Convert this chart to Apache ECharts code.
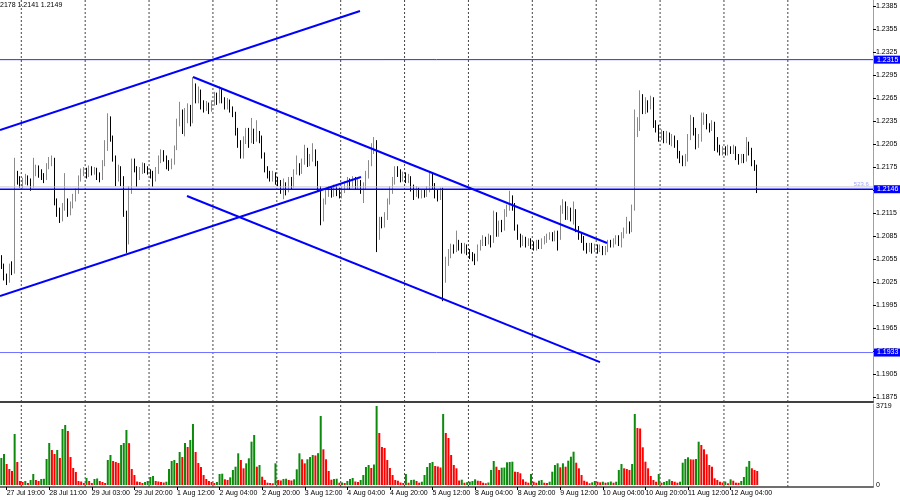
<!DOCTYPE html>
<html><head><meta charset="utf-8">
<script src="https://cdn.jsdelivr.net/npm/echarts@6/dist/echarts.min.js"></script>
<style>html,body{margin:0;padding:0;background:#fff}#c{width:900px;height:500px}</style>
</head><body><div id="c"></div>
<script>
// ---- data ----
const header = '2178 1.2141 1.2149';
// [open, high, low, close] per H1 bar
const ohlc = [
[1.2055,1.2060,1.2042,1.2046],[1.2046,1.2049,1.2027,1.2031],[1.2031,1.2036,1.2021,1.2027],[1.2027,1.2049,1.2024,1.2045],[1.2045,1.2052,1.2034,1.2040],
[1.2040,1.2187,1.2036,1.2164],[1.2164,1.2170,1.2152,1.2158],[1.2158,1.2163,1.2148,1.2152],[1.2152,1.2161,1.2147,1.2156],[1.2156,1.2166,1.2152,1.2160],
[1.2160,1.2164,1.2151,1.2155],[1.2155,1.2160,1.2144,1.2150],[1.2150,1.2187,1.2148,1.2168],[1.2168,1.2178,1.2163,1.2172],[1.2172,1.2177,1.2161,1.2166],
[1.2166,1.2172,1.2158,1.2163],[1.2163,1.2167,1.2154,1.2160],[1.2160,1.2180,1.2158,1.2175],[1.2175,1.2188,1.2172,1.2180],[1.2180,1.2190,1.2176,1.2184],
[1.2184,1.2187,1.2125,1.2128],[1.2128,1.2134,1.2110,1.2116],[1.2116,1.2122,1.2102,1.2108],[1.2108,1.2128,1.2104,1.2122],[1.2122,1.2167,1.2118,1.2130],
[1.2130,1.2134,1.2110,1.2119],[1.2119,1.2130,1.2112,1.2124],[1.2124,1.2140,1.2121,1.2135],[1.2135,1.2147,1.2130,1.2142],[1.2142,1.2164,1.2140,1.2160],
[1.2160,1.2173,1.2156,1.2168],[1.2168,1.2175,1.2163,1.2170],[1.2170,1.2174,1.2160,1.2165],[1.2165,1.2177,1.2162,1.2172],[1.2172,1.2176,1.2164,1.2169],
[1.2169,1.2175,1.2165,1.2171],[1.2171,1.2174,1.2158,1.2164],[1.2164,1.2168,1.2155,1.2161],[1.2161,1.2184,1.2158,1.2180],[1.2180,1.2210,1.2176,1.2200],
[1.2200,1.2245,1.2196,1.2238],[1.2238,1.2241,1.2208,1.2212],[1.2212,1.2216,1.2182,1.2186],[1.2186,1.2190,1.2150,1.2160],[1.2160,1.2178,1.2156,1.2172],
[1.2172,1.2176,1.2150,1.2160],[1.2160,1.2163,1.2110,1.2115],[1.2115,1.2118,1.2063,1.2080],[1.2080,1.2150,1.2074,1.2145],[1.2145,1.2186,1.2140,1.2180],
[1.2180,1.2186,1.2168,1.2172],[1.2172,1.2176,1.2149,1.2162],[1.2162,1.2175,1.2158,1.2170],[1.2170,1.2181,1.2166,1.2176],[1.2176,1.2180,1.2167,1.2172],
[1.2172,1.2176,1.2165,1.2169],[1.2169,1.2172,1.2160,1.2166],[1.2166,1.2170,1.2149,1.2160],[1.2160,1.2175,1.2156,1.2170],[1.2170,1.2190,1.2166,1.2185],
[1.2185,1.2198,1.2180,1.2193],[1.2193,1.2197,1.2182,1.2186],[1.2186,1.2190,1.2172,1.2180],[1.2180,1.2184,1.2170,1.2176],[1.2176,1.2186,1.2172,1.2182],
[1.2182,1.2203,1.2178,1.2200],[1.2200,1.2238,1.2197,1.2233],[1.2233,1.2260,1.2228,1.2240],[1.2240,1.2250,1.2218,1.2222],[1.2222,1.2252,1.2215,1.2240],
[1.2240,1.2258,1.2232,1.2250],[1.2250,1.2256,1.2228,1.2236],[1.2236,1.2292,1.2232,1.2280],[1.2280,1.2284,1.2258,1.2265],[1.2265,1.2280,1.2258,1.2272],
[1.2272,1.2276,1.2250,1.2258],[1.2258,1.2262,1.2246,1.2252],[1.2252,1.2261,1.2248,1.2255],[1.2255,1.2259,1.2244,1.2250],[1.2250,1.2262,1.2247,1.2258],
[1.2258,1.2273,1.2255,1.2268],[1.2268,1.2272,1.2256,1.2262],[1.2262,1.2280,1.2258,1.2275],[1.2275,1.2278,1.2258,1.2262],[1.2262,1.2266,1.2250,1.2255],
[1.2255,1.2265,1.2250,1.2260],[1.2260,1.2263,1.2246,1.2250],[1.2250,1.2254,1.2240,1.2244],[1.2244,1.2247,1.2216,1.2220],[1.2220,1.2226,1.2200,1.2205],
[1.2205,1.2210,1.2186,1.2190],[1.2190,1.2215,1.2186,1.2210],[1.2210,1.2226,1.2205,1.2222],[1.2222,1.2226,1.2200,1.2210],[1.2210,1.2239,1.2206,1.2220],
[1.2220,1.2225,1.2205,1.2212],[1.2212,1.2236,1.2208,1.2218],[1.2218,1.2222,1.2206,1.2214],[1.2214,1.2216,1.2186,1.2190],[1.2190,1.2194,1.2168,1.2172],
[1.2172,1.2176,1.2160,1.2166],[1.2166,1.2170,1.2156,1.2160],[1.2160,1.2170,1.2156,1.2164],[1.2164,1.2168,1.2152,1.2158],[1.2158,1.2162,1.2150,1.2155],
[1.2155,1.2158,1.2140,1.2146],[1.2146,1.2160,1.2133,1.2150],[1.2150,1.2155,1.2138,1.2146],[1.2146,1.2162,1.2142,1.2158],[1.2158,1.2162,1.2146,1.2152],
[1.2152,1.2172,1.2148,1.2168],[1.2168,1.2190,1.2165,1.2175],[1.2175,1.2180,1.2164,1.2170],[1.2170,1.2186,1.2166,1.2182],[1.2182,1.2204,1.2178,1.2196],
[1.2196,1.2200,1.2175,1.2180],[1.2180,1.2192,1.2176,1.2186],[1.2186,1.2206,1.2182,1.2194],[1.2194,1.2198,1.2176,1.2180],[1.2180,1.2183,1.2143,1.2146],
[1.2146,1.2150,1.2099,1.2108],[1.2108,1.2134,1.2104,1.2130],[1.2130,1.2146,1.2126,1.2140],[1.2140,1.2150,1.2136,1.2144],[1.2144,1.2150,1.2135,1.2140],
[1.2140,1.2152,1.2136,1.2146],[1.2146,1.2150,1.2137,1.2142],[1.2142,1.2148,1.2134,1.2138],[1.2138,1.2150,1.2134,1.2145],[1.2145,1.2156,1.2141,1.2150],
[1.2150,1.2162,1.2146,1.2156],[1.2156,1.2160,1.2146,1.2152],[1.2152,1.2163,1.2148,1.2158],[1.2158,1.2162,1.2145,1.2150],[1.2150,1.2160,1.2146,1.2154],
[1.2154,1.2158,1.2140,1.2146],[1.2146,1.2155,1.2128,1.2150],[1.2150,1.2170,1.2146,1.2165],[1.2165,1.2184,1.2160,1.2180],[1.2180,1.2206,1.2176,1.2200],
[1.2200,1.2214,1.2192,1.2206],[1.2206,1.2210,1.2064,1.2085],[1.2085,1.2110,1.2080,1.2104],[1.2104,1.2110,1.2095,1.2100],[1.2100,1.2116,1.2096,1.2110],
[1.2110,1.2134,1.2106,1.2130],[1.2130,1.2150,1.2126,1.2145],[1.2145,1.2162,1.2140,1.2156],[1.2156,1.2176,1.2152,1.2172],[1.2172,1.2176,1.2162,1.2168],
[1.2168,1.2172,1.2155,1.2160],[1.2160,1.2169,1.2156,1.2164],[1.2164,1.2168,1.2154,1.2158],[1.2158,1.2166,1.2154,1.2160],[1.2160,1.2163,1.2143,1.2148],
[1.2148,1.2152,1.2132,1.2140],[1.2140,1.2150,1.2136,1.2144],[1.2144,1.2148,1.2134,1.2138],[1.2138,1.2146,1.2134,1.2142],[1.2142,1.2146,1.2135,1.2140],
[1.2140,1.2150,1.2136,1.2145],[1.2145,1.2168,1.2142,1.2162],[1.2162,1.2166,1.2146,1.2150],[1.2150,1.2154,1.2134,1.2140],[1.2140,1.2146,1.2130,1.2136],
[1.2136,1.2148,1.2132,1.2144],[1.2144,1.2148,1.2000,1.2031],[1.2031,1.2058,1.2024,1.2052],[1.2052,1.2068,1.2046,1.2060],[1.2060,1.2075,1.2056,1.2070],
[1.2070,1.2074,1.2062,1.2068],[1.2068,1.2092,1.2064,1.2075],[1.2075,1.2080,1.2066,1.2072],[1.2072,1.2076,1.2062,1.2066],[1.2066,1.2076,1.2062,1.2070],
[1.2070,1.2074,1.2060,1.2065],[1.2065,1.2068,1.2055,1.2060],[1.2060,1.2064,1.2052,1.2058],[1.2058,1.2062,1.2047,1.2056],[1.2056,1.2074,1.2052,1.2070],
[1.2070,1.2080,1.2066,1.2076],[1.2076,1.2086,1.2072,1.2080],[1.2080,1.2084,1.2072,1.2077],[1.2077,1.2088,1.2074,1.2082],[1.2082,1.2086,1.2070,1.2080],
[1.2080,1.2118,1.2076,1.2113],[1.2113,1.2116,1.2084,1.2088],[1.2088,1.2105,1.2084,1.2100],[1.2100,1.2106,1.2090,1.2096],[1.2096,1.2120,1.2092,1.2115],
[1.2115,1.2126,1.2110,1.2122],[1.2122,1.2144,1.2118,1.2130],[1.2130,1.2138,1.2118,1.2124],[1.2124,1.2128,1.2092,1.2096],[1.2096,1.2100,1.2080,1.2084],
[1.2084,1.2088,1.2070,1.2076],[1.2076,1.2086,1.2072,1.2080],[1.2080,1.2084,1.2070,1.2075],[1.2075,1.2082,1.2072,1.2078],[1.2078,1.2082,1.2068,1.2074],
[1.2074,1.2078,1.2066,1.2070],[1.2070,1.2080,1.2066,1.2076],[1.2076,1.2080,1.2068,1.2072],[1.2072,1.2082,1.2068,1.2078],[1.2078,1.2085,1.2074,1.2080],
[1.2080,1.2088,1.2076,1.2084],[1.2084,1.2090,1.2080,1.2086],[1.2086,1.2090,1.2078,1.2082],[1.2082,1.2092,1.2078,1.2088],[1.2088,1.2092,1.2066,1.2084],
[1.2084,1.2125,1.2080,1.2120],[1.2120,1.2133,1.2114,1.2126],[1.2126,1.2130,1.2106,1.2112],[1.2112,1.2124,1.2106,1.2118],[1.2118,1.2122,1.2104,1.2108],
[1.2108,1.2130,1.2100,1.2116],[1.2116,1.2120,1.2090,1.2094],[1.2094,1.2098,1.2080,1.2086],[1.2086,1.2090,1.2076,1.2082],[1.2082,1.2085,1.2066,1.2072],
[1.2072,1.2076,1.2062,1.2068],[1.2068,1.2076,1.2064,1.2072],[1.2072,1.2076,1.2062,1.2068],[1.2068,1.2075,1.2064,1.2070],[1.2070,1.2074,1.2062,1.2066],
[1.2066,1.2074,1.2064,1.2070],[1.2070,1.2072,1.2060,1.2064],[1.2064,1.2072,1.2060,1.2068],[1.2068,1.2080,1.2064,1.2076],[1.2076,1.2080,1.2070,1.2074],
[1.2074,1.2082,1.2070,1.2078],[1.2078,1.2086,1.2074,1.2082],[1.2082,1.2086,1.2072,1.2078],[1.2078,1.2090,1.2070,1.2086],[1.2086,1.2096,1.2082,1.2092],
[1.2092,1.2110,1.2088,1.2098],[1.2098,1.2104,1.2088,1.2094],[1.2094,1.2126,1.2090,1.2122],[1.2122,1.2250,1.2118,1.2220],[1.2220,1.2240,1.2214,1.2226],
[1.2226,1.2275,1.2222,1.2262],[1.2262,1.2270,1.2244,1.2250],[1.2250,1.2266,1.2244,1.2258],[1.2258,1.2262,1.2246,1.2254],[1.2254,1.2268,1.2250,1.2262],
[1.2262,1.2266,1.2226,1.2232],[1.2232,1.2236,1.2220,1.2226],[1.2226,1.2230,1.2208,1.2214],[1.2214,1.2224,1.2210,1.2218],[1.2218,1.2222,1.2206,1.2212],
[1.2212,1.2222,1.2206,1.2216],[1.2216,1.2220,1.2204,1.2208],[1.2208,1.2218,1.2202,1.2212],[1.2212,1.2216,1.2200,1.2206],[1.2206,1.2210,1.2186,1.2190],
[1.2190,1.2196,1.2180,1.2186],[1.2186,1.2190,1.2176,1.2180],[1.2180,1.2192,1.2176,1.2186],[1.2186,1.2218,1.2182,1.2214],[1.2214,1.2243,1.2210,1.2236],
[1.2236,1.2240,1.2216,1.2222],[1.2222,1.2226,1.2198,1.2204],[1.2204,1.2218,1.2200,1.2212],[1.2212,1.2246,1.2208,1.2236],[1.2236,1.2246,1.2230,1.2240],
[1.2240,1.2244,1.2224,1.2228],[1.2228,1.2232,1.2220,1.2226],[1.2226,1.2236,1.2222,1.2230],[1.2230,1.2234,1.2196,1.2210],[1.2210,1.2214,1.2194,1.2200],
[1.2200,1.2204,1.2190,1.2194],[1.2194,1.2202,1.2190,1.2198],[1.2198,1.2202,1.2190,1.2194],[1.2194,1.2204,1.2190,1.2199],[1.2199,1.2202,1.2192,1.2196],
[1.2196,1.2204,1.2192,1.2200],[1.2200,1.2202,1.2184,1.2188],[1.2188,1.2192,1.2178,1.2184],[1.2184,1.2192,1.2180,1.2188],[1.2188,1.2192,1.2180,1.2185],
[1.2185,1.2214,1.2182,1.2198],[1.2198,1.2208,1.2190,1.2194],[1.2194,1.2200,1.2176,1.2180],[1.2180,1.2184,1.2170,1.2176],[1.2176,1.2178,1.2141,1.2149]
];
const volumes = [
1271,1459,988,753,659,2400,1083,188,141,190,
94,235,518,235,188,282,292,1224,1977,1647,
1459,1650,1271,2636,2824,2542,1318,800,612,188,
165,94,330,188,94,282,306,188,141,94,
1177,1412,1130,1083,1036,1883,1977,2589,1970,753,
471,165,141,94,141,188,377,424,188,165,
141,118,155,753,1130,1177,1036,1553,1318,1977,
1789,2118,2871,1553,1036,847,471,282,188,141,
94,141,518,532,268,235,362,706,862,1492,
1177,786,1020,1257,2040,2354,862,941,391,235,
108,94,80,1020,235,212,282,296,235,212,
268,739,1492,1210,1020,1210,1318,1412,1390,1500,
3250,1680,1210,659,250,282,296,108,118,94,
188,282,330,165,141,235,471,847,941,800,
965,3719,2448,1789,1742,1177,800,471,235,202,
118,94,518,108,235,250,188,108,155,471,
847,1036,1083,894,871,824,3342,2448,2212,1412,
941,786,212,250,108,132,155,188,268,202,
188,108,80,118,706,1130,861,706,814,824,
1068,1083,1097,626,612,551,268,155,108,518,
155,108,202,235,108,94,155,626,941,1021,
833,1021,861,1144,1332,1567,1050,786,471,202,
155,80,127,188,155,127,155,108,127,165,
108,155,706,988,786,753,706,988,3342,2683,
2660,1775,1097,786,424,235,155,518,108,141,
188,268,188,155,108,155,1050,1224,1304,1210,
1200,1224,2038,1883,1680,1445,941,861,315,235,
155,118,165,80,268,202,108,104,188,377,
861,1130,786,706,659
];
const volumeMaxLabel = 3719;
const timeLabels = ['27 Jul 19:00','28 Jul 11:00','29 Jul 03:00','29 Jul 20:00','1 Aug 12:00','2 Aug 04:00','2 Aug 20:00','3 Aug 12:00','4 Aug 04:00','4 Aug 20:00','5 Aug 12:00','8 Aug 04:00','8 Aug 20:00','9 Aug 12:00','10 Aug 04:00','10 Aug 20:00','11 Aug 12:00','12 Aug 04:00'];
const priceTicks = [1.2385,1.2355,1.2325,1.2295,1.2265,1.2235,1.2205,1.2175,1.2145,1.2115,1.2085,1.2055,1.2025,1.1995,1.1965,1.1935,1.1905,1.1875];
const levelPrices = [1.2315, 1.2146, 1.1933];
const bidPrice = 1.2149;
const fiboText = '523.6';
// trend lines: [barIndex, price] end points
const trendLines = [
  [[-0.5, 1.22232], [134.76, 1.23785]],
  [[-0.5, 1.20067], [135.13, 1.21619]],
  [[72.01, 1.22924], [227.56, 1.20759]],
  [[69.76, 1.21372], [224.93, 1.19206]]
];

// ---- layout ----
const SLOTS = 328;          // bar slots across the plot (incl. empty future)
const LABEL_START = 2, LABEL_EVERY = 16;
const DAY_START = 8, DAY_EVERY = 24, DAY_COUNT = 13;   // day separator bars
const PRICE_MIN = 1.18685, PRICE_MAX = 1.23928;
const VOL_MIN = -94, VOL_MAX = 3813;
const FONT = 'Liberation Sans';
const levelColors = ['#2a2aff', '#0000ff', '#7070ff'];
const levelWidths = [1, 1.5, 1];

const cats = Array.from({length: SLOTS}, (_, i) => String(i));
const candleData = ohlc.map(r => [r[0], r[3], r[2], r[1]]);
const volData = volumes.map((v, i) => ({
  value: v,
  itemStyle: {color: (i === 0 || v > volumes[i - 1]) ? '#0b8a0b' : '#ff0000'}
}));
const isLabel = i => i >= LABEL_START && (i - LABEL_START) % LABEL_EVERY === 0 && (i - LABEL_START) / LABEL_EVERY < timeLabels.length;
const xEnds = [-0.5, SLOTS - 0.5];
const dayBars = Array.from({length: DAY_COUNT}, (_, k) => DAY_START + k * DAY_EVERY);

const gridLineStyle = {color: '#444', type: [2, 2], width: 1};
const daySeries = [];
dayBars.forEach(b => {
  daySeries.push({type: 'line', xAxisIndex: 1, yAxisIndex: 0, symbol: 'none', silent: true, z: 1,
    data: [[b - 0.5, PRICE_MIN], [b - 0.5, PRICE_MAX]], lineStyle: gridLineStyle});
  daySeries.push({type: 'line', xAxisIndex: 3, yAxisIndex: 1, symbol: 'none', silent: true, z: 1,
    data: [[b - 0.5, VOL_MIN], [b - 0.5, VOL_MAX]], lineStyle: gridLineStyle});
});

const levelSeries = levelPrices.map((p, k) => ({
  type: 'line', xAxisIndex: 1, yAxisIndex: 0, symbol: 'none', silent: true, z: 4,
  data: xEnds.map(x => [x, p]),
  lineStyle: {color: levelColors[k], width: levelWidths[k]},
  endLabel: {show: true, formatter: p.toFixed(4), distance: 1,
    backgroundColor: '#0000ff', color: '#ffffff', padding: [1, 3, 0, 3],
    fontSize: 7, fontFamily: FONT}
}));

const chart = echarts.init(document.getElementById('c'), null, {renderer: 'canvas'});
chart.setOption({
  animation: false,
  backgroundColor: '#ffffff',
  title: {text: header, left: 0, top: 2, padding: 0,
    textStyle: {fontSize: 7, fontWeight: 'normal', color: '#000', fontFamily: FONT}},
  grid: [
    {left: 0, top: 0, width: 873, height: 402, outerBoundsMode: 'none', containLabel: false},
    {left: 0, top: 404, width: 873, height: 83, outerBoundsMode: 'none', containLabel: false}
  ],
  xAxis: [
    {type: 'category', gridIndex: 0, data: cats, boundaryGap: true,
      axisLine: {show: true, onZero: false, lineStyle: {color: '#404040', width: 2}},
      axisTick: {show: false}, axisLabel: {show: false}, splitLine: {show: false}},
    {type: 'value', gridIndex: 0, min: xEnds[0], max: xEnds[1], show: false,
      axisLine: {onZero: false}, splitLine: {show: false}},
    {type: 'category', gridIndex: 1, data: cats, boundaryGap: true, position: 'bottom',
      axisLine: {show: true, onZero: false, lineStyle: {color: '#404040', width: 1.5}},
      axisTick: {show: true, interval: isLabel, alignWithLabel: true, length: 3, lineStyle: {color: '#000'}},
      axisLabel: {show: true, interval: isLabel, align: 'left', margin: 3,
        formatter: (v, idx) => timeLabels[(idx - LABEL_START) / LABEL_EVERY] || '',
        fontSize: 7, color: '#000', fontFamily: FONT},
      splitLine: {show: false}},
    {type: 'value', gridIndex: 1, min: xEnds[0], max: xEnds[1], show: false,
      axisLine: {onZero: false}, splitLine: {show: false}}
  ],
  yAxis: [
    {type: 'value', gridIndex: 0, position: 'right', min: PRICE_MIN, max: PRICE_MAX, scale: true,
      axisLine: {show: true, onZero: false, lineStyle: {color: '#a0a0a0', width: 1}},
      axisTick: {show: true, customValues: priceTicks, length: 3, inside: false, lineStyle: {color: '#000'}},
      axisLabel: {show: true, customValues: priceTicks, formatter: v => v.toFixed(4), margin: 3,
        fontSize: 7, color: '#000', fontFamily: FONT},
      splitLine: {show: false}},
    {type: 'value', gridIndex: 1, position: 'right', min: VOL_MIN, max: VOL_MAX,
      axisLine: {show: true, onZero: false, lineStyle: {color: '#a0a0a0', width: 1}},
      axisTick: {show: false},
      axisLabel: {show: true, customValues: [0, volumeMaxLabel], formatter: v => String(Math.round(v)), margin: 3,
        fontSize: 7, color: '#000', fontFamily: FONT},
      splitLine: {show: false}}
  ],
  series: [
    ...daySeries,
    {type: 'candlestick', xAxisIndex: 0, yAxisIndex: 0, data: candleData, barWidth: 1.2, silent: true, z: 2,
      itemStyle: {color: '#a4a4a4', color0: '#000000', borderColor: '#8a8a8a', borderColor0: '#000000', borderWidth: 1}},
    {type: 'line', xAxisIndex: 1, yAxisIndex: 0, symbol: 'none', silent: true, z: 3,
      data: xEnds.map(x => [x, bidPrice]), lineStyle: {color: '#c8c8c8', width: 1}},
    ...levelSeries,
    {type: 'scatter', xAxisIndex: 1, yAxisIndex: 0, silent: true, z: 6, symbolSize: 1, clip: false,
      itemStyle: {color: 'rgba(0,0,0,0)'},
      data: [[xEnds[1] - 1, levelPrices[1]]],
      label: {show: true, position: 'left', distance: 1, offset: [0, -5], formatter: fiboText,
        color: '#8a8aff', fontSize: 6, fontFamily: FONT}},
    ...trendLines.map(seg => ({
      type: 'line', xAxisIndex: 1, yAxisIndex: 0, data: seg, symbol: 'none', silent: true,
      lineStyle: {color: '#0000ff', width: 2}, z: 5
    })),
    {type: 'bar', xAxisIndex: 2, yAxisIndex: 1, data: volData, barWidth: 2, silent: true, z: 2}
  ]
});
</script></body></html>
